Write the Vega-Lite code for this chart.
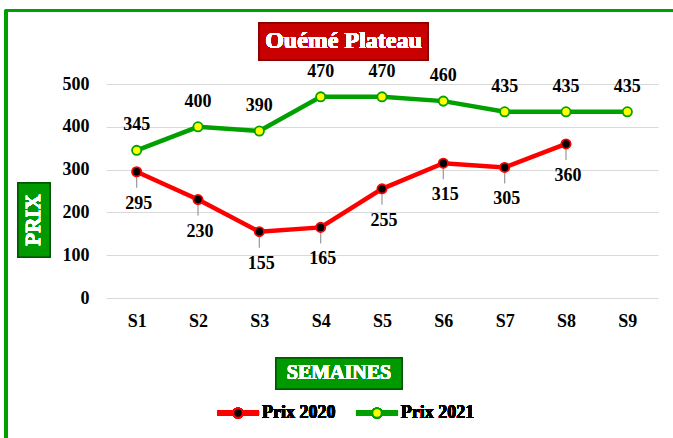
{
  "$schema": "https://vega.github.io/schema/vega-lite/v6.json",
  "width": 552,
  "height": 214,
  "autosize": {"type": "none"},
  "padding": {"left": 106, "top": 84, "right": 15, "bottom": 140},
  "background": "white",
  "config": {
    "view": {"stroke": null},
    "font": "Liberation Serif",
    "text": {"font": "Liberation Serif", "fontWeight": "bold"}
  },
  "data": {
    "values": [
      {"semaine": 1, "serie": "Prix 2020", "prix": 295},
      {"semaine": 2, "serie": "Prix 2020", "prix": 230},
      {"semaine": 3, "serie": "Prix 2020", "prix": 155},
      {"semaine": 4, "serie": "Prix 2020", "prix": 165},
      {"semaine": 5, "serie": "Prix 2020", "prix": 255},
      {"semaine": 6, "serie": "Prix 2020", "prix": 315},
      {"semaine": 7, "serie": "Prix 2020", "prix": 305},
      {"semaine": 8, "serie": "Prix 2020", "prix": 360},
      {"semaine": 1, "serie": "Prix 2021", "prix": 345},
      {"semaine": 2, "serie": "Prix 2021", "prix": 400},
      {"semaine": 3, "serie": "Prix 2021", "prix": 390},
      {"semaine": 4, "serie": "Prix 2021", "prix": 470},
      {"semaine": 5, "serie": "Prix 2021", "prix": 470},
      {"semaine": 6, "serie": "Prix 2021", "prix": 460},
      {"semaine": 7, "serie": "Prix 2021", "prix": 435},
      {"semaine": 8, "serie": "Prix 2021", "prix": 435},
      {"semaine": 9, "serie": "Prix 2021", "prix": 435}
    ]
  },
  "layer": [
    {
      "mark": {"type": "line", "strokeWidth": 0, "opacity": 0},
      "encoding": {
        "x": {
          "field": "semaine", "type": "quantitative",
          "scale": {"domain": [0.5, 9.5], "nice": false, "zero": false},
          "axis": {
            "title": null, "values": [1, 2, 3, 4, 5, 6, 7, 8, 9],
            "labelExpr": "'S' + datum.value", "grid": false, "ticks": false,
            "domain": false, "labelFont": "Liberation Serif", "labelFontWeight": "bold",
            "labelFontSize": 18, "labelColor": "#000000", "labelPadding": 14
          }
        },
        "y": {
          "field": "prix", "type": "quantitative",
          "scale": {"domain": [0, 500], "nice": false, "zero": true},
          "axis": {
            "title": null, "values": [0, 100, 200, 300, 400, 500], "grid": true,
            "gridColor": "#D9D9D9", "gridWidth": 1.2, "ticks": false, "domain": false,
            "labelFont": "Liberation Serif", "labelFontWeight": "bold",
            "labelFontSize": 18, "labelColor": "#000000", "labelPadding": 17
          }
        },
        "detail": {"field": "serie"}
      }
    },
    {
      "mark": {"type": "rule", "color": "#00A000", "strokeWidth": 3},
      "encoding": {
        "x": {"datum": -1.147}, "x2": {"datum": 9.745},
        "y": {"datum": 671.7}
      }
    },
    {
      "mark": {"type": "rule", "color": "#00A000", "strokeWidth": 3},
      "encoding": {
        "x": {"datum": -1.13},
        "y": {"datum": 672.9}, "y2": {"datum": -327.1}
      }
    },
    {
      "mark": {"type": "rect", "fill": "#C80000", "stroke": "#8B0000", "strokeWidth": 1.5},
      "encoding": {
        "x": {"datum": 2.995}, "x2": {"datum": 5.75},
        "y": {"datum": 642.5}, "y2": {"datum": 556.1}
      }
    },
    {
      "mark": {"type": "text", "color": "white", "fontSize": 24, "fontWeight": "bold", "align": "center", "baseline": "middle"},
      "encoding": {
        "x": {"datum": 4.372}, "y": {"datum": 599.3},
        "text": {"value": "Ouémé Plateau"}
      }
    },
    {
      "mark": {"type": "rect", "fill": "#009900", "stroke": "#005A00", "strokeWidth": 1.5},
      "encoding": {
        "x": {"datum": -0.935}, "x2": {"datum": -0.413},
        "y": {"datum": 268.7}, "y2": {"datum": 95.8}
      }
    },
    {
      "mark": {"type": "text", "color": "white", "fontSize": 21, "fontWeight": "bold", "align": "center", "baseline": "middle", "angle": 270},
      "encoding": {
        "x": {"datum": -0.674}, "y": {"datum": 182.2},
        "text": {"value": "PRIX"}
      }
    },
    {
      "mark": {"type": "rect", "fill": "#009900", "stroke": "#005A00", "strokeWidth": 1.5},
      "encoding": {
        "x": {"datum": 3.272}, "x2": {"datum": 5.326},
        "y": {"datum": -140.2}, "y2": {"datum": -212.6}
      }
    },
    {
      "mark": {"type": "text", "color": "white", "fontSize": 20, "fontWeight": "bold", "align": "center", "baseline": "middle"},
      "encoding": {
        "x": {"datum": 4.299}, "y": {"datum": -176.4},
        "text": {"value": "SEMAINES"}
      }
    },
    {
      "transform": [{"filter": "datum.serie == 'Prix 2020'"}],
      "mark": {"type": "rule", "color": "#A0A0A0", "strokeWidth": 1.3, "y2Offset": 16},
      "encoding": {
        "x": {"field": "semaine", "type": "quantitative"},
        "y": {"field": "prix", "type": "quantitative"},
        "y2": {"field": "prix"}
      }
    },
    {
      "mark": {"type": "line", "strokeWidth": 4.5},
      "encoding": {
        "x": {"field": "semaine", "type": "quantitative"},
        "y": {"field": "prix", "type": "quantitative"},
        "color": {
          "field": "serie", "type": "nominal",
          "scale": {"domain": ["Prix 2020", "Prix 2021"], "range": ["#FF0000", "#00A000"]},
          "legend": null
        }
      }
    },
    {
      "mark": {"type": "point", "filled": false, "size": 85, "strokeWidth": 1.8, "opacity": 1, "shape": "circle"},
      "encoding": {
        "x": {"field": "semaine", "type": "quantitative"},
        "y": {"field": "prix", "type": "quantitative"},
        "stroke": {
          "field": "serie", "type": "nominal",
          "scale": {"domain": ["Prix 2020", "Prix 2021"], "range": ["#FF0000", "#00A000"]},
          "legend": null
        },
        "fill": {
          "field": "serie", "type": "nominal",
          "scale": {"domain": ["Prix 2020", "Prix 2021"], "range": ["#000000", "#FFFF00"]},
          "legend": null
        }
      }
    },
    {
      "transform": [{"filter": "datum.serie == 'Prix 2021'"}],
      "mark": {"type": "text", "fontSize": 18, "fontWeight": "bold", "color": "#000000", "baseline": "middle", "dy": -25},
      "encoding": {
        "x": {"field": "semaine", "type": "quantitative"},
        "y": {"field": "prix", "type": "quantitative"},
        "text": {"field": "prix", "type": "quantitative"}
      }
    },
    {
      "transform": [{"filter": "datum.serie == 'Prix 2020'"}],
      "mark": {"type": "text", "fontSize": 18, "fontWeight": "bold", "color": "#000000", "baseline": "middle", "dy": 32, "dx": 2},
      "encoding": {
        "x": {"field": "semaine", "type": "quantitative"},
        "y": {"field": "prix", "type": "quantitative"},
        "text": {"field": "prix", "type": "quantitative"}
      }
    },
    {
      "mark": {"type": "rule", "color": "#FF0000", "strokeWidth": 4.5},
      "encoding": {
        "x": {"datum": 2.31}, "x2": {"datum": 2.995},
        "y": {"datum": -268.7}
      }
    },
    {
      "mark": {"type": "point", "shape": "circle", "size": 85, "filled": true, "fill": "#000000", "stroke": "#FF0000", "strokeWidth": 1.8, "opacity": 1},
      "encoding": {
        "x": {"datum": 2.652}, "y": {"datum": -268.7}
      }
    },
    {
      "mark": {"type": "text", "fontSize": 18, "fontWeight": "bold", "color": "#000000", "align": "left", "baseline": "middle"},
      "encoding": {
        "x": {"datum": 3.043}, "y": {"datum": -268.7},
        "text": {"value": "Prix 2020"}
      }
    },
    {
      "mark": {"type": "rule", "color": "#00A000", "strokeWidth": 4.5},
      "encoding": {
        "x": {"datum": 4.576}, "x2": {"datum": 5.261},
        "y": {"datum": -268.7}
      }
    },
    {
      "mark": {"type": "point", "shape": "circle", "size": 85, "filled": true, "fill": "#FFFF00", "stroke": "#00A000", "strokeWidth": 1.8, "opacity": 1},
      "encoding": {
        "x": {"datum": 4.919}, "y": {"datum": -268.7}
      }
    },
    {
      "mark": {"type": "text", "fontSize": 18, "fontWeight": "bold", "color": "#000000", "align": "left", "baseline": "middle"},
      "encoding": {
        "x": {"datum": 5.304}, "y": {"datum": -268.7},
        "text": {"value": "Prix 2021"}
      }
    }
  ]
}
